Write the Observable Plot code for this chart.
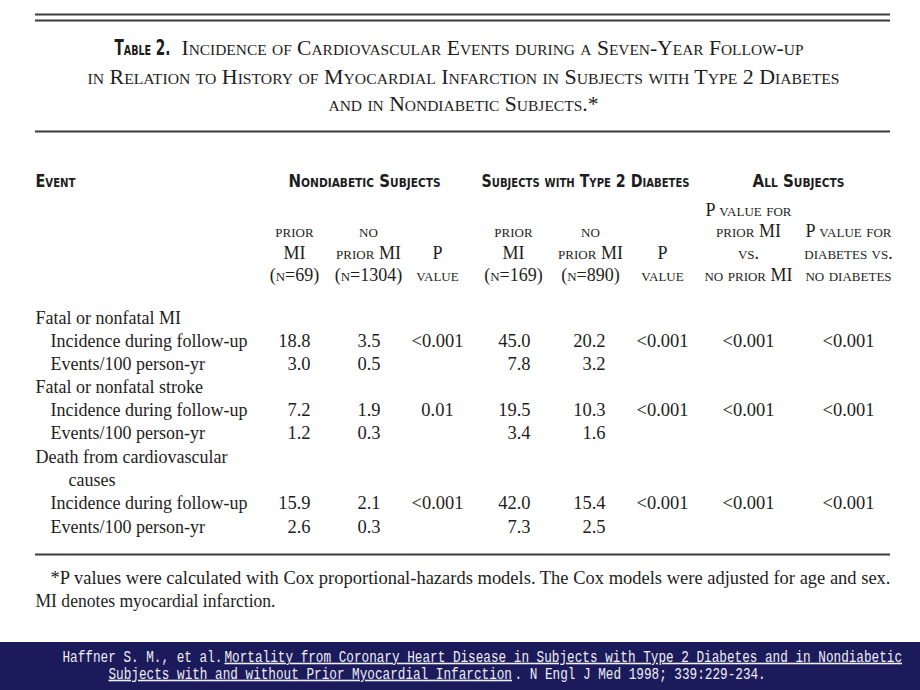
<!DOCTYPE html>
<html><head><meta charset="utf-8">
<script src="https://cdn.jsdelivr.net/npm/d3@7"></script>
<script src="https://cdn.jsdelivr.net/npm/@observablehq/plot@0.6"></script>
<style>
html,body{margin:0;padding:0;background:#fff;}
#chart svg{display:block;}
</style></head><body><div id="chart"></div>
<script>
// ---------- DATA ----------
const tableLabel = "Table 2.";
const titleLines = [
  "Incidence of Cardiovascular Events during a Seven-Year Follow-up",
  "in Relation to History of Myocardial Infarction in Subjects with Type 2 Diabetes",
  "and in Nondiabetic Subjects.*"
];
const eventHeader = "Event";
const groupHeaders = ["Nondiabetic Subjects", "Subjects with Type 2 Diabetes", "All Subjects"];
const columnHeads = [
  ["", "prior", "MI", "(n=69)"],
  ["", "no", "prior MI", "(n=1304)"],
  ["", "", "P", "value"],
  ["", "prior", "MI", "(n=169)"],
  ["", "no", "prior MI", "(n=890)"],
  ["", "", "P", "value"],
  ["P value for", "prior MI", "vs.", "no prior MI"],
  ["", "P value for", "diabetes vs.", "no diabetes"]
];
const rowLabels = [
  "Fatal or nonfatal MI", "Incidence during follow-up", "Events/100 person-yr",
  "Fatal or nonfatal stroke", "Incidence during follow-up", "Events/100 person-yr",
  "Death from cardiovascular", "causes", "Incidence during follow-up", "Events/100 person-yr"
];
const rowLevels = [0, 1, 1, 0, 1, 1, 0, 2, 1, 1];
// values by display row (null = empty cell)
const nondiabPriorMI   = [null, 18.8, 3.0, null, 7.2, 1.2, null, null, 15.9, 2.6];
const nondiabNoPriorMI = [null, 3.5, 0.5, null, 1.9, 0.3, null, null, 2.1, 0.3];
const nondiabP         = [null, "<0.001", null, null, "0.01", null, null, null, "<0.001", null];
const diabPriorMI      = [null, 45.0, 7.8, null, 19.5, 3.4, null, null, 42.0, 7.3];
const diabNoPriorMI    = [null, 20.2, 3.2, null, 10.3, 1.6, null, null, 15.4, 2.5];
const diabP            = [null, "<0.001", null, null, "<0.001", null, null, null, "<0.001", null];
const allPriorVsNoP    = [null, "<0.001", null, null, "<0.001", null, null, null, "<0.001", null];
const allDiabVsNoP     = [null, "<0.001", null, null, "<0.001", null, null, null, "<0.001", null];
const footnoteLines = [
  "*P values were calculated with Cox proportional-hazards models. The Cox models were adjusted for age and sex.",
  "MI denotes myocardial infarction."
];
const citePlain1 = "Haffner S. M., et al.";
const citeLink1 = "Mortality from Coronary Heart Disease in Subjects with Type 2 Diabetes and in Nondiabetic";
const citeLink2 = "Subjects with and without Prior Myocardial Infarction";
const citePlain2 = ". N Engl J Med 1998; 339:229-234.";

// ---------- LAYOUT / STYLE ----------
const L = {
  W: 920, H: 690, left: 35, right: 890,
  topRules: [14, 20], titleRule: 131, bottomRule: 554,
  titleY: [48, 77, 104], titleCenter: 463, titleLabelEnd: 170, title1Start: 181,
  titleW: {label: 56, l1: 622, l2: 752, l3: 270},
  headY: 181, groupX: [364, 585, 798], headW: {event: 40, groups: [152, 208, 92]},
  subY: [210, 231, 253, 275],
  colCenter: [294, 368, 437, 513, 590, 662, 748, 848],
  colRight: [310, 380, null, 530, 605, null, null, null],
  rowY: [318, 341, 364, 387, 410, 433, 457, 480, 503, 527],
  indent: [35, 50, 68],
  footY: [578, 601], footX: [50, 35], footW: [840, 240],
  band: [642, 690], citeY: [656, 673], citeScaleY: 1.25,
  citeX: {p1: 62, l1: 224, l2: 108, p2: 514}
};
const ink = "#1d1d1d";
const ruleColor = "#3a3a3a";
const bandColor = "#1b1b5c";
const citeColor = "#eeeef4";
const serif = "'Liberation Serif','Times New Roman',serif";
const sansBold = "'DejaVu Sans Condensed','DejaVu Sans','Liberation Sans',sans-serif";
const mono = "'Liberation Mono','DejaVu Sans Mono',monospace";

// fitted-text helper (sets textLength / vertical stretch after render)
const fits = [];
function fitText(data, opts, widths, extra = {}) {
  const tag = "fit-" + fits.length;
  fits.push({tag, widths, ...extra});
  return Plot.text(data, {...opts, ariaDescription: tag});
}

// ---------- CELLS ----------
const headCells = columnHeads.flatMap((lines, ci) =>
  lines.map((t, li) => ({t, x: L.colCenter[ci], y: L.subY[li]})).filter(d => d.t));
const valueColumns = [nondiabPriorMI, nondiabNoPriorMI, nondiabP, diabPriorMI, diabNoPriorMI, diabP, allPriorVsNoP, allDiabVsNoP];
const fmt = d3.format(".1f");
const numCells = [], pCells = [];
valueColumns.forEach((col, ci) => col.forEach((v, ri) => {
  if (v == null) return;
  if (typeof v === "number") numCells.push({t: fmt(v), x: L.colRight[ci], y: L.rowY[ri]});
  else pCells.push({t: v, x: L.colCenter[ci], y: L.rowY[ri]});
}));

const citeStyle = {textAnchor: "start", fontFamily: mono, fontSize: 12.7, fill: citeColor};

const svg = Plot.plot({
  width: L.W, height: L.H, margin: 0,
  x: {type: "linear", domain: [0, L.W], range: [0, L.W], axis: null},
  y: {type: "linear", domain: [0, L.H], range: [0, L.H], axis: null},
  style: {background: "#fff", overflow: "visible"},
  marks: [
    // rules
    Plot.ruleY(L.topRules, {x1: L.left, x2: L.right, stroke: ruleColor, strokeWidth: 2.2}),
    Plot.ruleY([L.titleRule, L.bottomRule], {x1: L.left, x2: L.right, stroke: ruleColor, strokeWidth: 2.2}),
    // title
    fitText([tableLabel], {x: L.titleLabelEnd, y: L.titleY[0], text: d => d, textAnchor: "end",
      fontFamily: sansBold, fontWeight: "bold", fontVariant: "small-caps", fontSize: 19, fill: ink}, [L.titleW.label],
      {scaleY: 1.1}),
    fitText([titleLines[0]], {x: L.title1Start, y: L.titleY[0], text: d => d, textAnchor: "start",
      fontFamily: serif, fontVariant: "small-caps", fontSize: 21, fill: ink}, [L.titleW.l1]),
    fitText(titleLines.slice(1), {x: L.titleCenter, y: (d, i) => L.titleY[i + 1], text: d => d, textAnchor: "middle",
      fontFamily: serif, fontVariant: "small-caps", fontSize: 21, fill: ink}, [L.titleW.l2, L.titleW.l3]),
    // header
    fitText([eventHeader], {x: L.left, y: L.headY, text: d => d, textAnchor: "start",
      fontFamily: sansBold, fontWeight: "bold", fontVariant: "small-caps", fontSize: 17, fill: ink}, [L.headW.event]),
    fitText(groupHeaders, {x: (d, i) => L.groupX[i], y: L.headY, text: d => d, textAnchor: "middle",
      fontFamily: sansBold, fontWeight: "bold", fontVariant: "small-caps", fontSize: 17, fill: ink}, L.headW.groups),
    Plot.text(headCells, {x: "x", y: "y", text: "t", textAnchor: "middle",
      fontFamily: serif, fontVariant: "small-caps", fontSize: 18, fill: ink}),
    // body
    Plot.text(rowLabels, {x: (d, i) => L.indent[rowLevels[i]], y: (d, i) => L.rowY[i], text: d => d,
      textAnchor: "start", fontFamily: serif, fontSize: 18, fill: ink}),
    Plot.text(numCells, {x: "x", y: "y", text: "t", textAnchor: "end", fontFamily: serif, fontSize: 18.5, fill: ink}),
    Plot.text(pCells, {x: "x", y: "y", text: "t", textAnchor: "middle", fontFamily: serif, fontSize: 18.5, fill: ink}),
    // footnote
    fitText(footnoteLines, {x: (d, i) => L.footX[i], y: (d, i) => L.footY[i], text: d => d, textAnchor: "start",
      fontFamily: serif, fontSize: 18.5, fill: ink}, L.footW),
    // citation band
    Plot.rect([0], {x1: 0, x2: L.W, y1: L.band[0], y2: L.band[1], fill: bandColor}),
    fitText([citePlain1], {x: L.citeX.p1, y: L.citeY[0], text: d => d, ...citeStyle}, [], {scaleY: L.citeScaleY}),
    fitText([citeLink1], {x: L.citeX.l1, y: L.citeY[0], text: d => d, ...citeStyle}, [], {scaleY: L.citeScaleY, underline: true}),
    fitText([citeLink2], {x: L.citeX.l2, y: L.citeY[1], text: d => d, ...citeStyle}, [], {scaleY: L.citeScaleY, underline: true}),
    fitText([citePlain2], {x: L.citeX.p2, y: L.citeY[1], text: d => d, ...citeStyle}, [], {scaleY: L.citeScaleY})
  ]
});

for (const f of fits) {
  svg.querySelectorAll(`g[aria-description="${f.tag}"] text`).forEach((t, i) => {
    if (f.widths[i]) {
      t.setAttribute("textLength", f.widths[i]);
      t.setAttribute("lengthAdjust", "spacingAndGlyphs");
    }
    if (f.underline) t.style.textDecoration = "underline";
    if (f.scaleY) {
      const tr = t.getAttribute("transform");
      if (tr && tr.includes("translate")) {
        t.setAttribute("transform", tr + ` scale(1,${f.scaleY})`);
      } else {
        const y = +t.getAttribute("y") || 0;
        t.setAttribute("transform", `translate(0,${y}) scale(1,${f.scaleY}) translate(0,${-y})`);
      }
    }
  });
}
document.getElementById("chart").appendChild(svg);
</script></body></html>
